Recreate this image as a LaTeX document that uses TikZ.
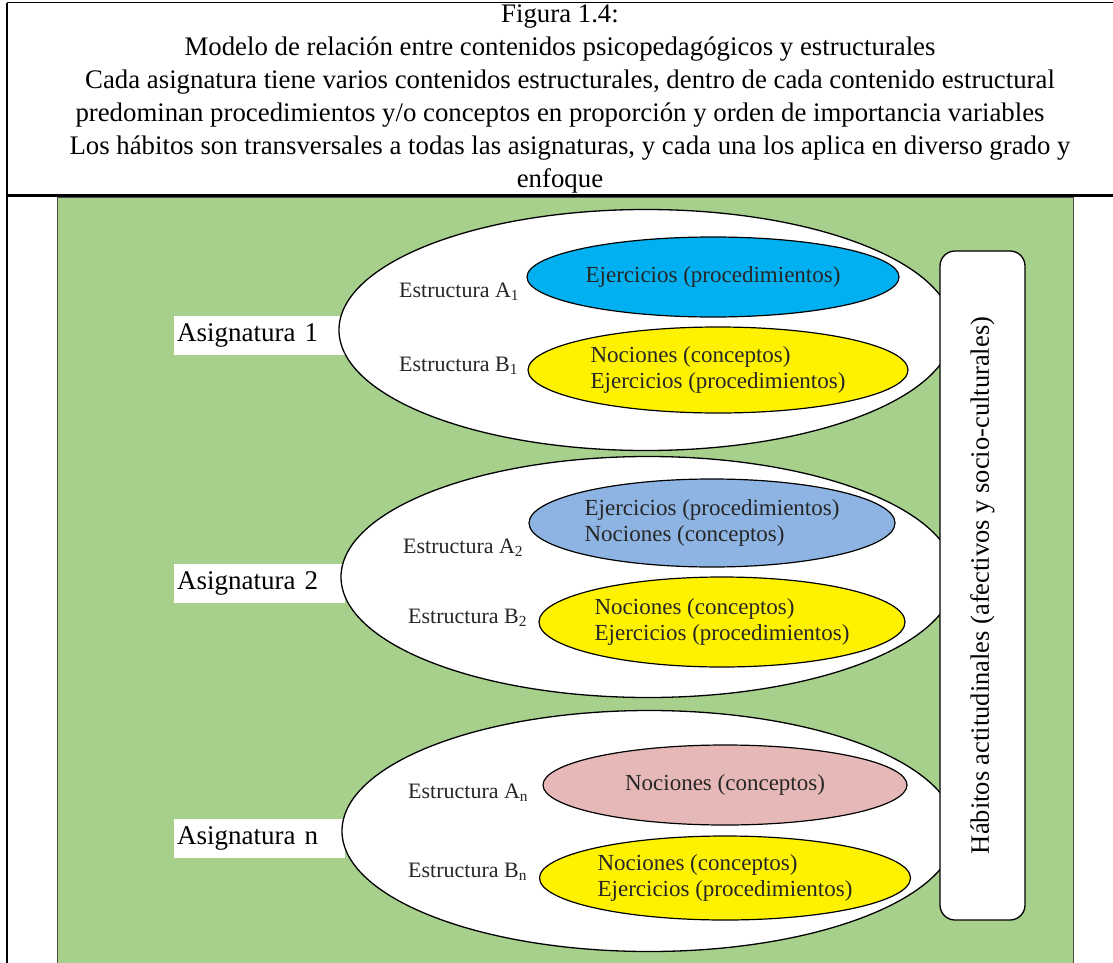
\documentclass[tikz,border=0pt]{standalone}
\usepackage{fontspec}
\setmainfont{Liberation Serif}
\usepackage{tikz}
\usetikzlibrary{shapes.geometric}
\usepackage{xcolor}

\definecolor{panelgreen}{RGB}{168,208,141}
\definecolor{skyfill}{RGB}{0,176,240}
\definecolor{steelfill}{RGB}{142,180,227}
\definecolor{rosefill}{RGB}{230,185,184}

\begin{document}
\begin{tikzpicture}[x=1pt, y=-1pt,
    every node/.style={font=\fontsize{22}{26}\selectfont},
    subject/.style={draw, ellipse, fill=white, line width=1.3pt, minimum width=614pt, minimum height=241pt, inner sep=0pt},
    content/.style={draw, ellipse, line width=1.2pt, inner sep=0pt, align=left, text=black!85, font=\fontsize{23}{26}\selectfont},
    tag/.style={fill=white, anchor=west, inner sep=3pt, minimum height=39pt, text width=165pt, align=left, font=\fontsize{27}{30}\selectfont},
    struct/.style={anchor=west, inner sep=0pt, text=black!85}]
    \useasboundingbox (0,0) rectangle (1113,963);

    % Caption
    \node[align=center, inner sep=0pt, font=\fontsize{26.8}{33}\selectfont] (caption) at (560,99) {Figura 1.4:\\
        Modelo de relación entre contenidos psicopedagógicos y estructurales\\
        \hspace*{20pt}Cada asignatura tiene varios contenidos estructurales, dentro de cada contenido estructural\\
        predominan procedimientos y/o conceptos en proporción y orden de importancia variables\hspace*{10pt}\\
        \hspace*{20pt}Los hábitos son transversales a todas las asignaturas, y cada una los aplica en diverso grado y\\
        enfoque};

    % Frame
    \draw[line width=1pt] (7,3) -- (1113,3);
    \draw[line width=2pt] (7,3) -- (7,963);
    \draw[line width=3pt] (7,195.5) -- (1113,195.5);

    % Panel
    \filldraw[fill=panelgreen, draw=gray!60!black, line width=0.8pt] (57,197) rectangle (1073,964);

    % Subject labels
    \node[tag] (lab1) at (174,335) {Asignatura 1};
    \node[tag] (lab2) at (174,583) {Asignatura 2};
    \node[tag] (lab3) at (174,838) {Asignatura n};

    % Subjects
    \node[subject] (subj1) at (646,330) {};
    \node[subject] (subj2) at (648,577) {};
    \node[subject] (subj3) at (649,831) {};

    % Subject 1
    \node[struct] (sa1) at (399,292) {Estructura A\textsubscript{1}};
    \node[struct] (sb1) at (399,366) {Estructura B\textsubscript{1}};
    \node[content, fill=skyfill, minimum width=372pt, minimum height=80pt] (ca1) at (713,277) {Ejercicios (procedimientos)};
    \node[content, fill=yellow, minimum width=380pt, minimum height=86pt] (cb1) at (718,370) {Nociones (conceptos)\\Ejercicios (procedimientos)};

    % Subject 2
    \node[struct] (sa2) at (403,548) {Estructura A\textsubscript{2}};
    \node[struct] (sb2) at (408,618) {Estructura B\textsubscript{2}};
    \node[content, fill=steelfill, minimum width=366pt, minimum height=88pt] (ca2) at (712,523) {Ejercicios (procedimientos)\\Nociones (conceptos)};
    \node[content, fill=yellow, minimum width=366pt, minimum height=90pt] (cb2) at (722,622) {Nociones (conceptos)\\Ejercicios (procedimientos)};

    % Subject n
    \node[struct] (sa3) at (408,793) {Estructura A\textsubscript{n}};
    \node[struct] (sb3) at (408,872) {Estructura B\textsubscript{n}};
    \node[content, fill=rosefill, minimum width=364pt, minimum height=80pt] (ca3) at (725,785) {Nociones (conceptos)};
    \node[content, fill=yellow, minimum width=371pt, minimum height=84pt] (cb3) at (725,878) {Nociones (conceptos)\\Ejercicios (procedimientos)};

    % Habits
    \node[draw, fill=white, rounded corners=15pt, line width=1.3pt, rotate=90, minimum width=669pt, minimum height=85pt, font=\fontsize{26.5}{28}\selectfont] (habits) at (982.5,585.5) {Hábitos actitudinales (afectivos y socio-culturales)};

\end{tikzpicture}
\end{document}
